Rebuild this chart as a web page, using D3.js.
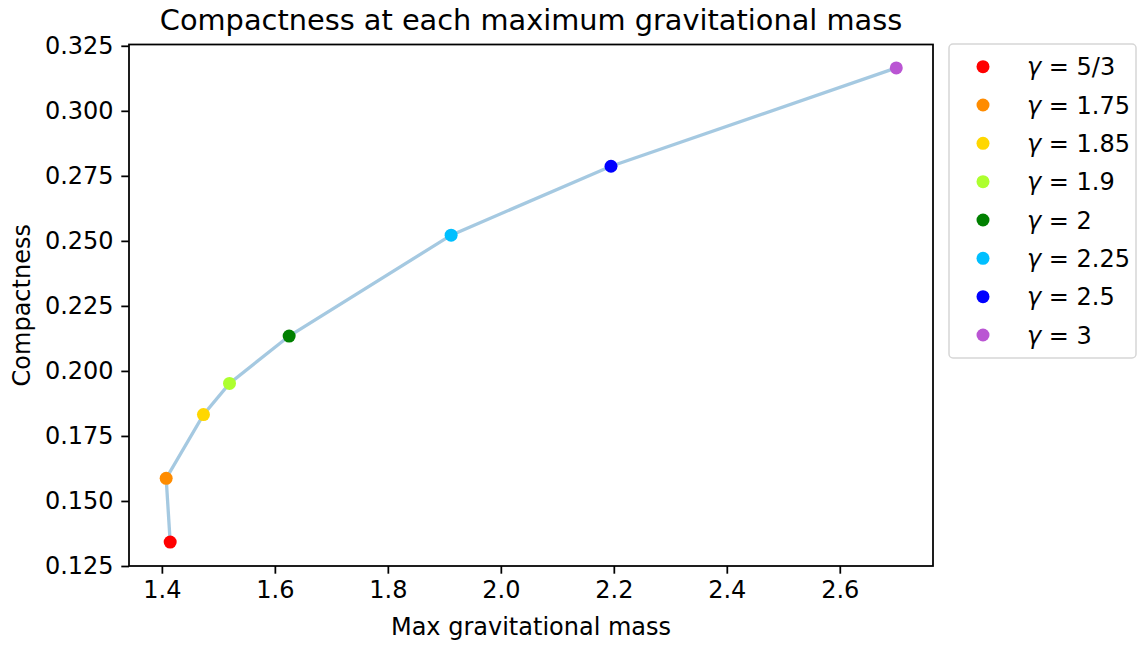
<!DOCTYPE html>
<html><head><meta charset="utf-8">
<script src="https://cdn.jsdelivr.net/npm/d3@7"></script>
<style>body{margin:0;background:#fff}svg{display:block}text{font-family:"DejaVu Sans",sans-serif}</style>
</head><body><svg id="c" width="1138" height="645"></svg>
<script>
const gammaLabels = ["5/3","1.75","1.85","1.9","2","2.25","2.5","3"];
const maxMass = [1.4147,1.4076,1.4736,1.5197,1.6253,1.912,2.195,2.700];
const compactness = [0.1342,0.1587,0.1832,0.1952,0.2134,0.2522,0.2787,0.3165];
const colors = ["red","darkorange","gold","greenyellow","green","deepskyblue","blue","mediumorchid"];
const xTicks = [1.4,1.6,1.8,2.0,2.2,2.4,2.6];
const yTicks = [0.125,0.150,0.175,0.200,0.225,0.250,0.275,0.300,0.325];

const svg = d3.select("#c");
const L=129,R=933,T=44.5,B=566;
const x = d3.scaleLinear().domain([1.3418,2.765]).range([L,R]);
const y = d3.scaleLinear().domain([0.125,0.3255]).range([B,T]);
const fs = 24;

const gx = svg.append("g").attr("transform",`translate(0,${B})`)
  .call(d3.axisBottom(x).tickValues(xTicks).tickFormat(d3.format(".1f")).tickSize(7.7).tickPadding(7.7));
const gy = svg.append("g").attr("transform",`translate(${L},0)`)
  .call(d3.axisLeft(y).tickValues(yTicks).tickFormat(d3.format(".3f")).tickSize(7.7).tickPadding(7.7));
[gx,gy].forEach(g=>{
  g.select(".domain").remove();
  g.selectAll("line").attr("stroke","#000").attr("stroke-width",1.76);
  g.selectAll("text").attr("font-size",fs).attr("font-family","DejaVu Sans").attr("fill","#000");
});
gx.selectAll("text").attr("dy","0.68em");
svg.append("rect").attr("x",L).attr("y",T).attr("width",R-L).attr("height",B-T)
  .attr("fill","none").attr("stroke","#000").attr("stroke-width",1.76);

const pts = maxMass.map((m,i)=>({m,c:compactness[i],col:colors[i],g:gammaLabels[i]}));
svg.append("path").datum(pts)
  .attr("d",d3.line().x(d=>x(d.m)).y(d=>y(d.c)))
  .attr("fill","none").attr("stroke","#1f77b4").attr("stroke-opacity",0.4).attr("stroke-width",3.3);
svg.selectAll("circle.p").data(pts).join("circle").attr("class","p")
  .attr("cx",d=>x(d.m)).attr("cy",d=>y(d.c)).attr("r",6.5).attr("fill",d=>d.col);

svg.append("text").attr("x",(L+R)/2).attr("y",30).attr("text-anchor","middle")
  .attr("font-size",28.8).text("Compactness at each maximum gravitational mass");
svg.append("text").attr("x",(L+R)/2).attr("y",635).attr("text-anchor","middle")
  .attr("font-size",fs).text("Max gravitational mass");
svg.append("text").attr("transform",`translate(30,${(T+B)/2}) rotate(-90)`).attr("text-anchor","middle")
  .attr("font-size",fs).text("Compactness");

// legend
const lg = svg.append("g");
lg.append("rect").attr("x",949).attr("y",44).attr("width",187).attr("height",314).attr("rx",4)
  .attr("fill","#fff").attr("stroke","#d6d6d6").attr("stroke-width",1.5);
const ly = d3.scaleLinear().domain([0,7]).range([66.7,335]);
pts.forEach((d,i)=>{
  lg.append("circle").attr("cx",983).attr("cy",ly(i)).attr("r",6.5).attr("fill",d.col);
  const t = lg.append("text").attr("x",1027).attr("y",ly(i)+8.5).attr("font-size",fs);
  t.append("tspan").attr("font-style","italic").text("γ");
  t.append("tspan").text(" = "+d.g);
});
</script></body></html>
